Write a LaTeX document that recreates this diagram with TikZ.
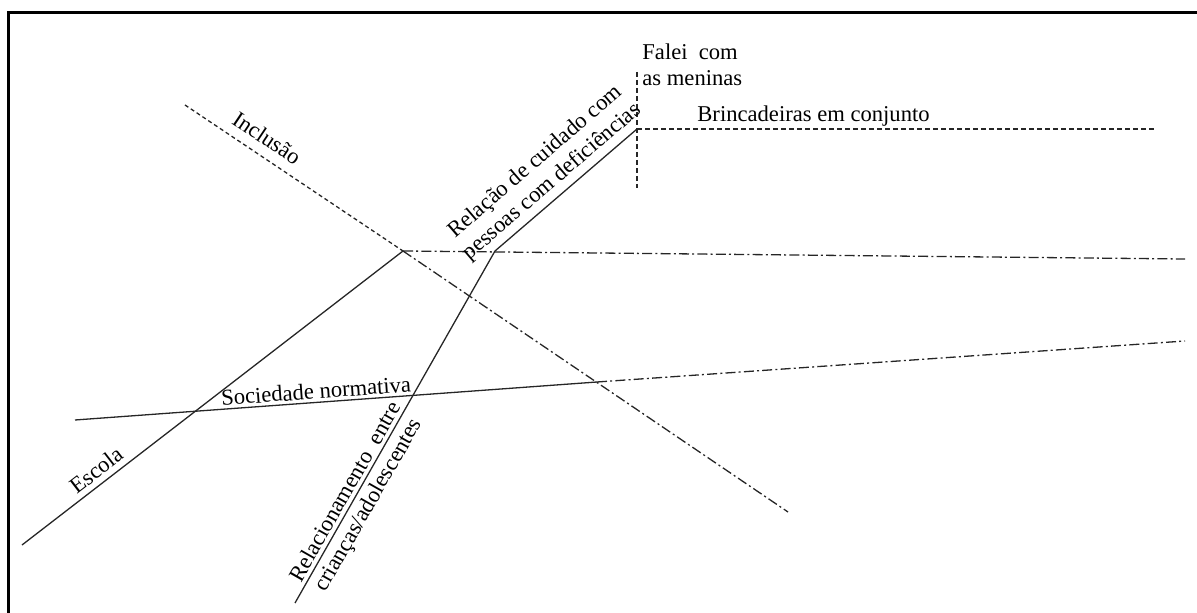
\documentclass[tikz,border=0pt]{standalone}
\usepackage{fontspec}
\setmainfont{Liberation Serif}
\usetikzlibrary{positioning}

\begin{document}
\begin{tikzpicture}[
  x=0.5pt, y=-0.5pt,
  font=\fontsize{11.3}{13}\selectfont,
  frame/.style={line width=1.5pt, draw=black},
  axis/.style={line width=0.65pt, draw=black!85},
  fine/.style={axis, dash pattern=on 2pt off 1.5pt},
  dashdot/.style={axis, dash pattern=on 5pt off 1.6pt on 1pt off 1.6pt},
  tag/.style={inner sep=0pt, text=black}
]
\useasboundingbox (0,0) rectangle (1197,613);

% frame (cut off at right and bottom)
\coordinate (frame-tr) at (1197,13);
\coordinate (frame-bl) at (8,613);
\draw[frame] (frame-tr) -| (frame-bl);

% points of the lines
\coordinate (incl-start) at (185,105);
\coordinate (hub) at (403,251);
\coordinate (incl-end) at (788,512);
\coordinate (escola-start) at (22,545);
\coordinate (socied-start) at (75,420);
\coordinate (socied-cross) at (597,382);
\coordinate (socied-end) at (1185,341);
\coordinate (upper-end) at (1185,259);
\coordinate (bend) at (495,251);
\coordinate (corner) at (637,129);
\coordinate (rel-end) at (295,603);
\coordinate (vtop) at (637,72);
\coordinate (vbot) at (637,188);
\coordinate (brinc-end) at (1155,129);

% lines
\draw[fine] (incl-start) -- (hub);
\draw[dashdot] (hub) -- (incl-end);
\draw[axis] (escola-start) -- (hub);
\draw[dashdot] (hub) -- (upper-end);
\draw[axis] (socied-start) -- (socied-cross);
\draw[dashdot] (socied-cross) -- (socied-end);
\draw[axis] (rel-end) -- (bend) -- (corner);
\draw[fine, dash pattern=on 2.5pt off 1.5pt] (vtop) -- (vbot);
\draw[fine, dash pattern=on 2.5pt off 1.5pt] (corner) -- (brinc-end);

% labels
\node[tag, rotate=-33.8] (inclusao) at (267,138) {Inclusão};
\node[tag, rotate=40.7, align=center] (cuidado) at (544,172)
  {Relação de cuidado com\\pessoas com deficiências};
\node[tag, rotate=4.2] (sociedade) at (316,391) {Sociedade normativa};
\node[tag, rotate=37.6] (escola) at (96,470) {Escola};
\node[tag, rotate=60.4, align=center] (relacionamento) at (358,499)
  {Relacionamento\ \ entre\\crianças/adolescentes};
\node[tag, align=left, anchor=north west] (falei) at (642,43)
  {Falei\ \ com\\as meninas};
\node[tag, anchor=base west] (brincadeiras) at (697,122) {Brincadeiras em conjunto};

\end{tikzpicture}
\end{document}
